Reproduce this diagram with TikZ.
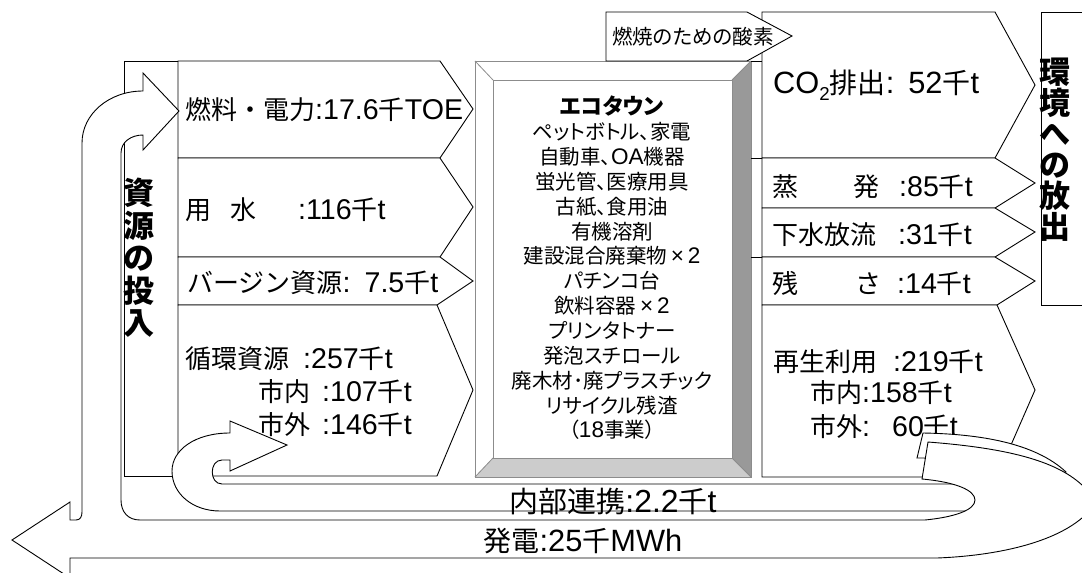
\documentclass[tikz,border=0pt]{standalone}
\usepackage{fontspec}
\setmainfont{Noto Sans CJK JP}
\newfontfamily\pfont[RawFeature=+palt]{Noto Sans CJK JP}
\newfontfamily\latf[Scale=1.1]{Liberation Sans}
\newcommand\LL[1]{{\latf #1}}
\definecolor{bevdark}{RGB}{153,153,153}
\definecolor{bevlight}{RGB}{204,204,204}
\definecolor{bevline}{RGB}{140,140,140}
\tikzset{
  ln/.style={draw=black, line width=0.9pt, fill=white, line join=miter},
  bevedge/.style={draw=bevline, line width=0.8pt},
  lbl/.style={anchor=west, inner sep=0pt, font=\fontsize{26}{33}\selectfont},
  vlbl/.style={inner sep=0pt, align=center, font=\bfseries\fontsize{31}{32.6}\selectfont},
  ctext/.style={inner sep=0pt, align=center, font=\pfont\fontsize{20.5}{24.85}\selectfont},
}
\begin{document}
\begin{tikzpicture}[x=1pt,y=-1pt]
\useasboundingbox (0,0) rectangle (1082,573);
\clip (0,0) rectangle (1082,573);
\fill[white] (0,0) rectangle (1082,573);

% left label box
\path[ln] (124,61) rectangle (178,476);
% input chevrons
\path[ln] (178,61) -- (440,61) -- (473,109) -- (440,158) -- (178,158) -- cycle;
\path[ln] (178,158) -- (440,158) -- (473,207) -- (440,257) -- (178,257) -- cycle;
\path[ln] (178,257) -- (440,257) -- (473,281) -- (437,305) -- (178,305) -- cycle;
\path[ln] (178,305) -- (437,305) -- (473,390) -- (437,476) -- (178,476) -- cycle;

% central bevel box
\fill[white] (475,61) rectangle (751,477);
\fill[bevdark] (732,80) -- (751,61) -- (751,477) -- (732,458) -- cycle;
\fill[bevlight] (493,458) -- (732,458) -- (751,477) -- (475,477) -- cycle;
\draw[bevedge] (475,61) rectangle (751,477);
\draw[bevedge] (493,80) rectangle (732,458);
\draw[bevedge] (475,61) -- (493,80) (751,61) -- (732,80) (475,477) -- (493,458) (751,477) -- (732,458);

% output chevrons
\path[ln] (762,12) -- (995,12) -- (1035,85) -- (995,158) -- (762,158) -- cycle;
\path[ln] (762,158) -- (995,158) -- (1035,183) -- (995,208) -- (762,208) -- cycle;
\path[ln] (762,208) -- (995,208) -- (1035,232) -- (995,257) -- (762,257) -- cycle;
\path[ln] (762,257) -- (995,257) -- (1035,281) -- (997,305) -- (762,305) -- cycle;
\path[ln] (762,305) -- (997,305) -- (1035,390) -- (997,477) -- (762,477) -- cycle;
\path[ln] (1041,12) rectangle (1100,305);
\draw[line width=0.9pt] (751,61) -- (762,61) (751,158) -- (762,158) (751,257) -- (762,257);

% oxygen chevron
\path[ln] (606,12) -- (747,12) -- (792,36) -- (747,61) -- (606,61) -- cycle;
\node[anchor=west, inner sep=0pt, font=\pfont\fontsize{20.5}{24}\selectfont] (toxy) at (612,37) {燃焼のための酸素};

% output texts
\node[lbl, font=\fontsize{28}{33}\selectfont] (tco2) at (773,85) {\LL{CO\raisebox{-7pt}{\fontsize{17}{17}\selectfont 2}}排出\LL{:}\hspace{14pt}\LL{52}千\LL{t}};
\node[lbl] (tevap) at (772,187) {蒸\hspace{55pt}発\hspace{20pt}\LL{:85}千\LL{t}};
\node[lbl] (tsew) at (772,235) {下水放流\hspace{22pt}\LL{:31}千\LL{t}};
\node[lbl] (tres) at (772,283) {残\hspace{57pt}さ\hspace{16pt}\LL{:14}千\LL{t}};
\node[lbl] (treg) at (773,362) {再生利用\hspace{16pt}\LL{:219}千\LL{t}};
\node[lbl] (tregin) at (810,393) {市内\LL{:158}千\LL{t}};
\node[lbl] (tregout) at (810,427) {市外\LL{:}\hspace{22pt}\LL{60}千\LL{t}};

% input texts (upper)
\node[lbl] (tfuel) at (185,110) {燃料・電力\LL{:17.6}千\LL{TOE}};
\node[lbl] (twater) at (185,210) {用\hspace{19pt}水\hspace{42pt}\LL{:116}千\LL{t}};
\node[lbl] (tvirgin) at (187,283) {バージン資源\LL{:}\hspace{14pt}\LL{7.5}千\LL{t}};

% back tail shape
\path[ln] (917,458) -- (923,433) .. controls (980,434) and (1035,443) .. (1066,472) -- (1050,478) -- (930,472) -- (925,458) -- cycle;

% internal link arrow
\path[ln] (990,484) -- (222,484) .. controls (209,484) and (209,460) .. (222,460) -- (230,460) -- (230,471) -- (287,445) -- (230,421) -- (230,433) .. controls (195,433) and (172,450) .. (172,471) .. controls (172,494) and (193,511) .. (220,511) -- (990,511) -- cycle;

% big power arrow with branch
\path[ln] (928,442) .. controls (1005,448) and (1055,460) .. (1082,485)
  .. controls (1096,498) and (1094,510) .. (1082,518)
  .. controls (1050,545) and (990,556) .. (937,558)
  -- (70,558) -- (70,578) -- (12,540) -- (70,502) -- (70,520) -- (76,520)
  .. controls (80,520) and (82,517) .. (82,512) -- (82,143)
  .. controls (82,114) and (109,91) .. (143,91)
  -- (143,73) -- (179,111) -- (143,150) -- (143,135)
  .. controls (131,135) and (121,142) .. (121,153)
  -- (121,500) .. controls (121,512) and (128,520) .. (140,520)
  -- (925,520) .. controls (955,517) and (975,510) .. (975,500)
  .. controls (975,490) and (955,482) .. (922,479) -- cycle;

% lower input texts
\node[lbl] (tcirc) at (185,359) {循環資源\hspace{14pt}\LL{:257}千\LL{t}};
\node[lbl] (tcin) at (258,392) {市内\hspace{12pt}\LL{:107}千\LL{t}};
\node[lbl] (tcout) at (258,425) {市外\hspace{12pt}\LL{:146}千\LL{t}};

% vertical labels
\node[vlbl] (tin) at (139,258) {資\\源\\の\\投\\入};
\node[vlbl, font=\bfseries\fontsize{31}{31}\selectfont] (tout) at (1055,150) {環\\境\\へ\\の\\放\\出};

% centre text
\node[ctext] (eco) at (612,268) {{\bfseries\fontsize{22}{24.85}\selectfont エコタウン}\\ペットボトル、家電\\自動車、\LL{OA}機器\\蛍光管、医療用具\\古紙、食用油\\有機溶剤\\建設混合廃棄物\LL{\,×\,2}\\パチンコ台\\飲料容器\LL{\,×\,2}\\プリンタトナー\\発泡スチロール\\廃木材･廃プラスチック\\リサイクル残渣\\（\LL{18}事業）};

% bottom texts
\node[inner sep=0pt, font=\fontsize{29}{29}\selectfont] (tint) at (613,502) {内部連携\LL{:2.2}千\LL{t}};
\node[inner sep=0pt, font=\fontsize{28}{28}\selectfont] (tgen) at (583,541) {発電\LL{:25}千\LL{MWh}};
\end{tikzpicture}
\end{document}
